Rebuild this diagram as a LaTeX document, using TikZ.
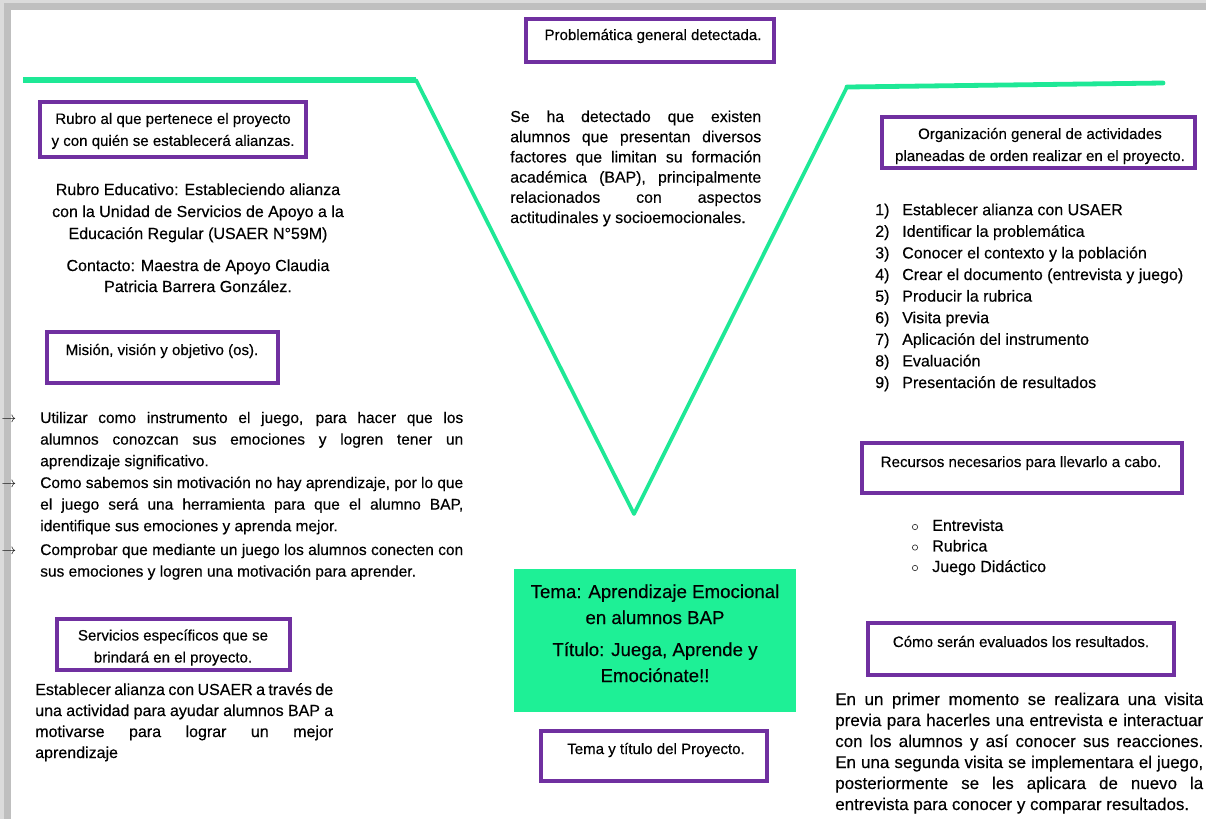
\documentclass[tikz,border=0pt]{standalone}
\usepackage{fontspec}
\setmainfont{Liberation Sans}[FakeBold=0.3]
\definecolor{vpurple}{RGB}{112,48,160}
\definecolor{mintline}{RGB}{30,232,150}
\definecolor{mintbox}{RGB}{30,240,150}
\tolerance=9999
\hyphenpenalty=10000
\begin{document}
\begin{tikzpicture}[x=0.75pt,y=-0.75pt,
  lbox/.style={draw=vpurple, line width=2.6pt, inner sep=0pt},
  lbl/.style={font=\fontsize{11.3}{16.5}\selectfont, align=center, inner sep=0pt, text=black},
  body/.style={font=\fontsize{12}{16.2}\selectfont, inner sep=0pt, text=black},
  arr/.style={font=\fontsize{10.5}{10.5}\selectfont, inner sep=0pt, text=black, anchor=base},
  vline/.style={draw=mintline, line cap=round, line join=round}
]
\useasboundingbox (0,0) rectangle (1206,819);
% page shadow
\fill[gray!28] (0,0) rectangle (1206,819);
\fill[gray!50] (4,3) rectangle (1206,819);
\fill[white] (11,10) rectangle (1206,819);

% green V line
\coordinate (c1) at (23,80);
\coordinate (c2) at (416,80);
\coordinate (c3) at (634,514);
\coordinate (c4) at (847,87);
\coordinate (c5) at (1163,83);
\draw[vline, line width=4.6pt, line cap=butt] (c1) -- (c2);
\draw[vline, line width=2.8pt] (c2) -- (c3) -- (c4);
\draw[vline, line width=3.6pt] (c4) -- (c5);

% purple label boxes
\node[lbox, minimum width=199.5pt, minimum height=41.25pt] (b1) at (173,129.5) {};
\node[lbl] (b1t) at (173,131) {Rubro al que pertenece el proyecto\\y con quién se establecerá alianzas.};

\node[lbox, minimum width=186pt, minimum height=32.25pt] (b2) at (650,40.5) {};
\node[lbl, anchor=base] (b2t) at (653,40) {Problemática general detectada.};

\node[lbox, minimum width=234.75pt, minimum height=38.25pt] (b3) at (1038.5,142.5) {};
\node[lbl] (b3t) at (1040,146) {Organización general de actividades\\planeadas de orden realizar en el proyecto.};

\node[lbox, minimum width=173.25pt, minimum height=38.25pt] (b4) at (162.5,357.5) {};
\node[lbl, anchor=base] (b4t) at (162,355) {Misión, visión y objetivo (os).};

\node[lbox, minimum width=174.75pt, minimum height=38.25pt] (b5) at (173.5,644.5) {};
\node[lbl] (b5t) at (173,647.5) {Servicios específicos que se\\brindará en el proyecto.};

\node[lbox, minimum width=169.5pt, minimum height=37.5pt] (b7) at (654,756) {};
\node[lbl, anchor=base] (b7t) at (656,754) {Tema y título del Proyecto.};

\node[lbox, minimum width=240pt, minimum height=37.5pt] (b8) at (1022,468) {};
\node[lbl, anchor=base] (b8t) at (1021,467) {Recursos necesarios para llevarlo a cabo.};

\node[lbox, minimum width=229.5pt, minimum height=39pt] (b9) at (1021,649) {};
\node[lbl, anchor=base] (b9t) at (1021,647) {Cómo serán evaluados los resultados.};

% green title box
\node[fill=mintbox, inner sep=0pt, minimum width=211.5pt, minimum height=107.25pt] (b6) at (655,640.5) {};
\node[font=\fontsize{14}{19.5}\selectfont, align=center, inner sep=0pt, text=black, anchor=base] (b6t) at (655,682)
  {Tema: Aprendizaje Emocional\\en alumnos BAP\\[4.5pt]Título: Juega, Aprende y\\Emociónate!!};

% left column texts
\node[body, align=center, anchor=base, font=\fontsize{12}{16.5}\selectfont] (rubro) at (198,239)
  {Rubro Educativo: Estableciendo alianza\\con la Unidad de Servicios de Apoyo a la\\Educación Regular (USAER N°59M)};
\node[body, align=center, anchor=base, font=\fontsize{12}{15.75}\selectfont] (contacto) at (198,292)
  {Contacto: Maestra de Apoyo Claudia\\Patricia Barrera González.};

\node[arr] (ar1) at (9,422) {$\rightarrow$};
\node[arr] (ar2) at (9,487) {$\rightarrow$};
\node[arr] (ar3) at (9,554) {$\rightarrow$};
\node[body, font=\fontsize{11.6}{16.2}\selectfont, text width=317.25pt, align=justify, anchor=base west] (it1) at (40,423)
  {Utilizar como instrumento el juego, para hacer que los\linebreak alumnos conozcan sus emociones y logren tener un\linebreak aprendizaje significativo.};
\node[body, font=\fontsize{11.6}{16.2}\selectfont, text width=317.25pt, align=justify, anchor=base west] (it2) at (40,488)
  {Como sabemos sin motivación no hay aprendizaje, por lo que\linebreak el juego será una herramienta para que el alumno BAP,\linebreak identifique sus emociones y aprenda mejor.};
\node[body, font=\fontsize{11.6}{16.2}\selectfont, text width=317.25pt, align=justify, anchor=base west] (it3) at (40,555)
  {Comprobar que mediante un juego los alumnos conecten con\linebreak sus emociones y logren una motivación para aprender.};

\node[body, font=\fontsize{12}{15.75}\selectfont, text width=223.5pt, align=justify, anchor=base west] (serv) at (35,695)
  {Establecer alianza con USAER a través de\linebreak una actividad para ayudar alumnos BAP a\linebreak motivarse para lograr un mejor\linebreak aprendizaje};

% centre paragraph
\node[body, font=\fontsize{11.9}{15.15}\selectfont, text width=188.25pt, align=justify, anchor=base west] (prob) at (510,122)
  {Se ha detectado que existen\linebreak alumnos que presentan diversos\linebreak factores que limitan su formación\linebreak académica (BAP), principalmente\linebreak relacionados con aspectos\linebreak actitudinales y socioemocionales.};

% right column
\node[body, align=left, anchor=base west] (steps) at (875,388)
  {\makebox[20.25pt][l]{1)}Establecer alianza con USAER\\
   \makebox[20.25pt][l]{2)}Identificar la problemática\\
   \makebox[20.25pt][l]{3)}Conocer el contexto y la población\\
   \makebox[20.25pt][l]{4)}Crear el documento (entrevista y juego)\\
   \makebox[20.25pt][l]{5)}Producir la rubrica\\
   \makebox[20.25pt][l]{6)}Visita previa\\
   \makebox[20.25pt][l]{7)}Aplicación del instrumento\\
   \makebox[20.25pt][l]{8)}Evaluación\\
   \makebox[20.25pt][l]{9)}Presentación de resultados};

\node[circle, draw=black!80, line width=0.5pt, inner sep=0pt, minimum size=4pt] (r1) at (915,527) {};
\node[circle, draw=black!80, line width=0.5pt, inner sep=0pt, minimum size=4pt] (r2) at (915,547.5) {};
\node[circle, draw=black!80, line width=0.5pt, inner sep=0pt, minimum size=4pt] (r3) at (915,568) {};
\node[body, align=left, anchor=base west, font=\fontsize{12}{15.4}\selectfont] (recs) at (932,572)
  {Entrevista\\Rubrica\\Juego Didáctico};

\node[body, font=\fontsize{12.7}{15.75}\selectfont, text width=276pt, align=justify, anchor=base west] (eval) at (835,705)
  {En un primer momento se realizara una visita\linebreak previa para hacerles una entrevista e interactuar\linebreak con los alumnos y así conocer sus reacciones.\linebreak En una segunda visita se implementara el juego,\linebreak posteriormente se les aplicara de nuevo la\linebreak entrevista para conocer y comparar resultados.};
\end{tikzpicture}
\end{document}
